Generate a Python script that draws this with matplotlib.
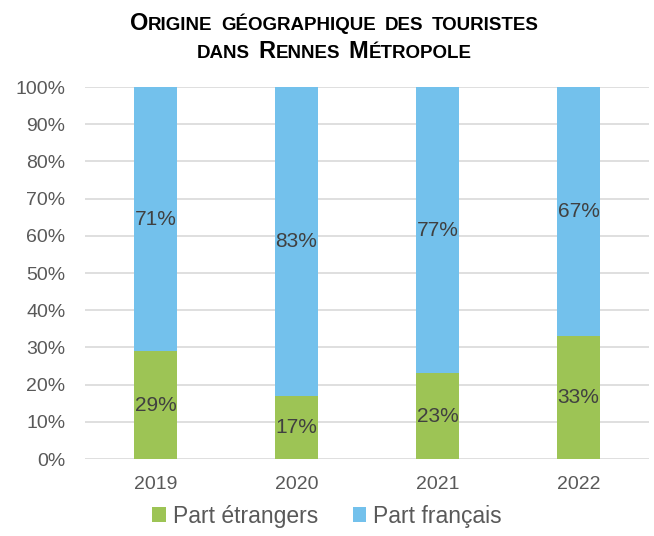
import matplotlib
matplotlib.use('Agg')
import matplotlib.pyplot as plt
import numpy as np

plt.rcParams['font.family'] = ['Liberation Sans', 'DejaVu Sans']

annees = ['2019', '2020', '2021', '2022']
part_etrangers = [29, 17, 23, 33]
part_francais = [71, 83, 77, 67]
series = ['Part étrangers', 'Part français']
titre = ['Origine géographique des touristes', 'dans Rennes Métropole']

vert = '#9DC455'
bleu = '#73C1EC'

fig = plt.figure(figsize=(6.54, 5.36), dpi=100)
ax = fig.add_axes([85 / 654, 1 - 459 / 536, 564 / 654, 372 / 536])

x = np.arange(len(annees))
b1 = ax.bar(x, part_etrangers, width=0.31, color=vert, label=series[0], zorder=3)
b2 = ax.bar(x, part_francais, width=0.31, bottom=part_etrangers, color=bleu,
            label=series[1], zorder=3)

for rects, vals in [(b1, part_etrangers), (b2, part_francais)]:
    for r, v in zip(rects, vals):
        ax.text(r.get_x() + r.get_width() / 2, r.get_y() + r.get_height() / 2,
                f'{v}%', ha='center', va='center', fontsize=15, color='#404040', zorder=4)

ax.set_xlim(-0.5, 3.5)
ax.set_ylim(0, 100)
ax.set_yticks(np.arange(0, 101, 10))
ax.set_yticklabels([f'{v}%' for v in range(0, 101, 10)])
ax.set_xticks(x)
ax.set_xticklabels(annees)
ax.tick_params(axis='both', length=0, labelsize=14, labelcolor='#595959')
ax.tick_params(axis='y', pad=14)
ax.tick_params(axis='x', pad=12)
ax.grid(axis='y', color='#D9D9D9', linewidth=1.2, zorder=0)
for s in ax.spines.values():
    s.set_visible(False)

leg = fig.legend(handles=[b1, b2], loc='center', bbox_to_anchor=(0.5, 1 - 516 / 536),
                 ncol=2, frameon=False, fontsize=16.5, handlelength=0.6, handleheight=0.6,
                 handletextpad=0.3, columnspacing=1.5, labelcolor='#595959')


# titre en petites capitales
def petites_caps(ligne, y, grand=17, petit=13.5, espace=2, centre=334 / 654):
    renderer = fig.canvas.get_renderer()
    morceaux = []
    mots = ligne.split(' ')
    for i, mot in enumerate(mots):
        if i > 0:
            morceaux.append((' ', grand))
        j = 0
        while j < len(mot):
            c = mot[j]
            if c.isupper():
                morceaux.append((c, grand))
                j += 1
            else:
                k = j
                while k < len(mot) and not mot[k].isupper():
                    k += 1
                morceaux.append((mot[j:k].upper(), petit))
                j = k
    textes = []
    for s, taille in morceaux:
        t = fig.text(0, y, s, fontsize=taille, fontweight='bold', color='black',
                     ha='left', va='baseline')
        textes.append(t)
    largeurs = []
    for t in textes:
        w = t.get_window_extent(renderer).width
        if t.get_text() == ' ':
            w += espace
        largeurs.append(w / fig.bbox.width)
    total = sum(largeurs)
    pos = centre - total / 2
    for t, w in zip(textes, largeurs):
        t.set_x(pos)
        pos += w


petites_caps(titre[0], 1 - 30 / 536)
petites_caps(titre[1], 1 - 58 / 536)

fig.savefig('out.png', dpi=100)
